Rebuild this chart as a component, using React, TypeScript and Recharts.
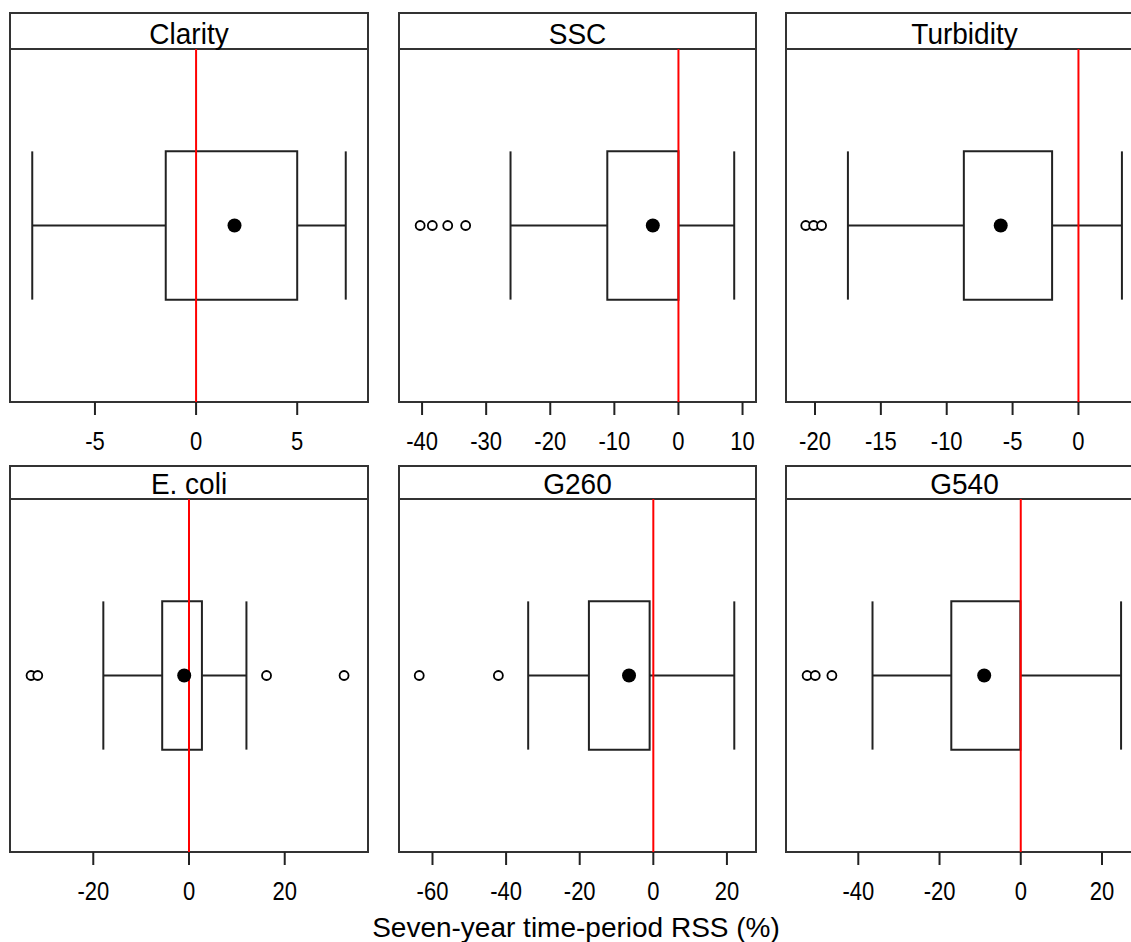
import React from "react";
import {
  ComposedChart,
  Scatter,
  XAxis,
  YAxis,
  ReferenceArea,
  ReferenceLine,
} from "recharts";

const panelNames = ["Clarity", "SSC", "Turbidity", "E. coli", "G260", "G540"];
const boxLow = [-1.5, -11.1, -8.7, -5.6, -17.5, -17.1];
const boxHigh = [5.0, 0.0, -2.0, 2.7, -1.0, -0.1];
const whiskerLow = [-8.1, -26.2, -17.5, -17.9, -34.0, -36.5];
const whiskerHigh = [7.4, 8.7, 3.3, 12.0, 22.0, 24.7];
const means = [1.9, -4.0, -5.9, -1.0, -6.6, -9.0];
const outliers = [
  [],
  [-40.3, -38.4, -36.0, -33.2],
  [-20.7, -20.1, -19.5],
  [-33.0, -31.6, 16.2, 32.4],
  [-63.6, -42.1],
  [-52.6, -50.6, -46.5],
];
const axisRanges = [
  [-9.2, 8.5],
  [-43.6, 12.1],
  [-22.2, 4.9],
  [-37.4, 37.4],
  [-69.1, 27.9],
  [-57.8, 30.1],
];
const tickValues = [
  [-5, 0, 5],
  [-40, -30, -20, -10, 0, 10],
  [-20, -15, -10, -5, 0],
  [-20, 0, 20],
  [-60, -40, -20, 0, 20],
  [-40, -20, 0, 20],
];
const xLabel = "Seven-year time-period RSS (%)";

const FONT = "'Liberation Sans', Arial, sans-serif";
const LINE = "#222";

// layout
const colX = [10, 399, 786];
const colW = [358, 357, 357];
const rows = [
  { top: 13, strip: 49, bottom: 402 },
  { top: 466, strip: 499, bottom: 852 },
];
const boxY1 = 0.29;
const boxY2 = 0.71;
const midY = 0.5;

const MeanDot = (props: any) => (
  <circle cx={props.cx} cy={props.cy} r={7} fill="#000" />
);
const OpenDot = (props: any) => (
  <circle cx={props.cx} cy={props.cy} r={4.5} fill="#fff" stroke="#000" strokeWidth={1.8} />
);

const Tick = (props: any) => {
  const { x, y, payload } = props;
  return (
    <g transform={`translate(${x},${y}) scale(1,1.15)`}>
      <text
        x={0}
        y={0}
        dy="0.71em"
        textAnchor="middle"
        fill="#000"
        fontSize={22}
        fontFamily={FONT}
      >
        {payload.value}
      </text>
    </g>
  );
};

const Panel = ({ i }: { i: number }) => {
  const col = i % 3;
  const row = rows[Math.floor(i / 3)];
  const x = colX[col];
  const w = colW[col];
  const plotH = row.bottom - row.strip;
  const meanData = [{ x: means[i], y: midY }];
  const outData = outliers[i].map((v) => ({ x: v, y: midY }));
  return (
    <>
      <div
        style={{
          position: "absolute",
          left: x - 1,
          top: row.top - 1,
          width: w + 2,
          height: row.strip - row.top + 2,
          border: "2px solid #333",
          boxSizing: "border-box",
        }}
      />
      <div
        style={{
          position: "absolute",
          left: x - 1,
          top: row.strip - 1,
          width: w + 2,
          height: plotH + 2,
          border: "2px solid #333",
          boxSizing: "border-box",
        }}
      />
      <div
        style={{
          position: "absolute",
          left: x,
          width: w,
          top: row.strip - 4.5 - 23.7,
          lineHeight: "28px",
          fontSize: 28,
          fontFamily: FONT,
          textAlign: "center",
          color: "#000",
          whiteSpace: "nowrap",
          transform: "scaleY(1.08)",
          transformOrigin: "50% 23.7px",
        }}
      >
        {panelNames[i]}
      </div>
      <div style={{ position: "absolute", left: x, top: row.strip }}>
        <ComposedChart
          width={w}
          height={plotH + 60}
          margin={{ top: 0, right: 0, bottom: 0, left: 0 }}
        >
          <XAxis
            type="number"
            dataKey="x"
            domain={axisRanges[i]}
            allowDataOverflow
            ticks={tickValues[i]}
            interval={0}
            height={60}
            axisLine={false}
            tickSize={13}
            tickMargin={17}
            tickLine={{ stroke: LINE, strokeWidth: 2 }}
            tick={<Tick />}
          />
          <YAxis type="number" dataKey="y" domain={[0, 1]} hide />
          <ReferenceArea
            x1={boxLow[i]}
            x2={boxHigh[i]}
            y1={boxY1}
            y2={boxY2}
            fill="none"
            fillOpacity={0}
            stroke={LINE}
            strokeWidth={2}
          />
          <ReferenceLine
            segment={[
              { x: whiskerLow[i], y: midY },
              { x: boxLow[i], y: midY },
            ]}
            stroke={LINE}
            strokeWidth={2}
          />
          <ReferenceLine
            segment={[
              { x: boxHigh[i], y: midY },
              { x: whiskerHigh[i], y: midY },
            ]}
            stroke={LINE}
            strokeWidth={2}
          />
          <ReferenceLine
            segment={[
              { x: whiskerLow[i], y: boxY1 },
              { x: whiskerLow[i], y: boxY2 },
            ]}
            stroke={LINE}
            strokeWidth={2}
          />
          <ReferenceLine
            segment={[
              { x: whiskerHigh[i], y: boxY1 },
              { x: whiskerHigh[i], y: boxY2 },
            ]}
            stroke={LINE}
            strokeWidth={2}
          />
          <Scatter data={outData} shape={OpenDot} isAnimationActive={false} />
          <Scatter data={meanData} shape={MeanDot} isAnimationActive={false} />
          <ReferenceLine x={0} stroke="#ff0000" strokeWidth={2} />
        </ComposedChart>
      </div>
    </>
  );
};

export default function App() {
  return (
    <>
      <style>{"body{margin:0}"}</style>
      <div
        style={{
          position: "relative",
          width: 1131,
          height: 942,
          overflow: "hidden",
          background: "#fff",
        }}
      >
        {panelNames.map((_, i) => (
          <Panel key={i} i={i} />
        ))}
        <div
          style={{
            position: "absolute",
            left: 0,
            width: 1152,
            top: 914,
            lineHeight: "28px",
            fontSize: 28,
            fontFamily: FONT,
            textAlign: "center",
            color: "#000",
            whiteSpace: "nowrap",
          }}
        >
          {xLabel}
        </div>
      </div>
    </>
  );
}
